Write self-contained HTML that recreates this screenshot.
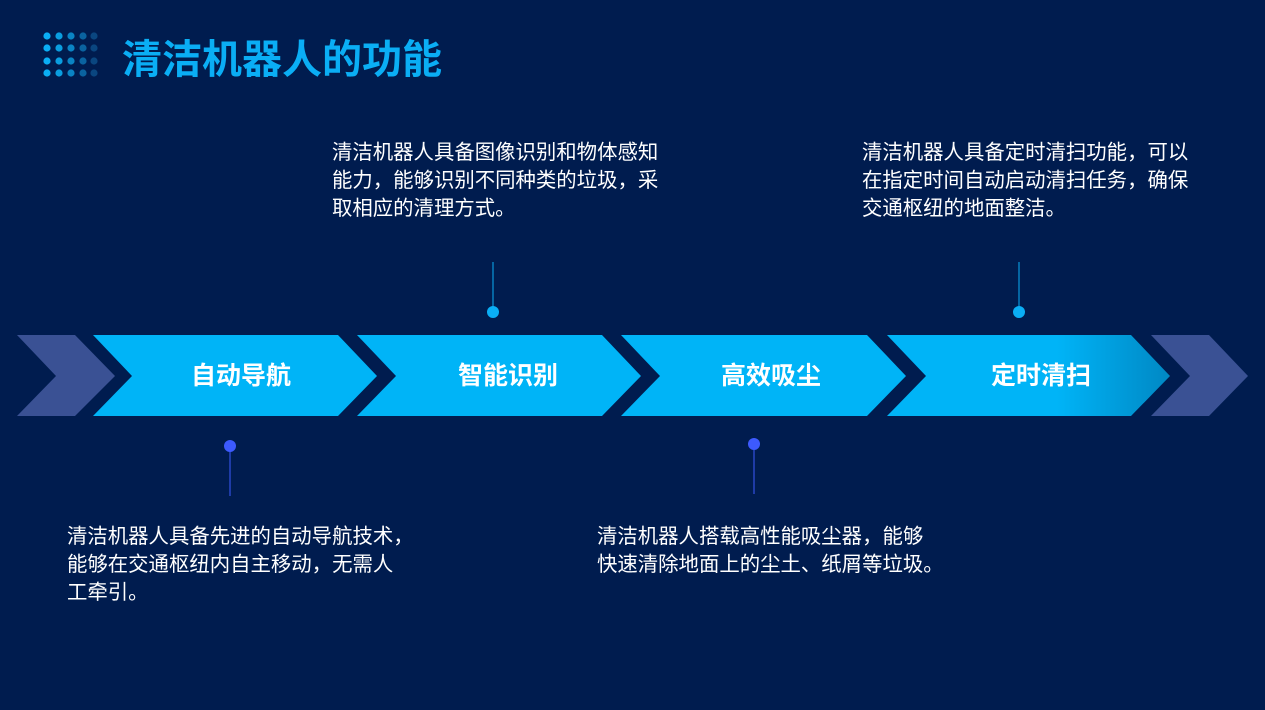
<!DOCTYPE html>
<html><head><meta charset="utf-8"><style>
body{margin:0;width:1265px;height:710px;background:#001c4f;position:relative;overflow:hidden;font-family:"Liberation Sans","Noto Sans CJK SC",sans-serif;}
.t{position:absolute;color:#fff;font-size:20.4px;line-height:28px;white-space:nowrap;}
.title{position:absolute;left:122px;top:35px;color:#0aaef5;font-size:40px;font-weight:bold;line-height:50px;}
.lab{position:absolute;color:#fff;font-size:25px;font-weight:bold;top:360px;line-height:32px;transform:translateX(-50%);}
</style></head><body>
<svg width="1265" height="710" style="position:absolute;left:0;top:0">
<defs><linearGradient id="g" x1="0" x2="1"><stop offset="0.6" stop-color="#00b4f7"/><stop offset="1" stop-color="#0088c4"/></linearGradient></defs>
<g>
<circle cx="47" cy="36" r="3.6" fill="#0aaef5"/><circle cx="59" cy="36" r="3.6" fill="#0a9ee0"/><circle cx="71" cy="36" r="3.6" fill="#0a84c4"/><circle cx="83" cy="36" r="3.6" fill="#0a63a0"/><circle cx="94" cy="36" r="3.6" fill="#0a4680"/>
<circle cx="47" cy="48" r="3.6" fill="#0aaef5"/><circle cx="59" cy="48" r="3.6" fill="#0a9ee0"/><circle cx="71" cy="48" r="3.6" fill="#0a84c4"/><circle cx="83" cy="48" r="3.6" fill="#0a63a0"/><circle cx="94" cy="48" r="3.6" fill="#0a4680"/>
<circle cx="47" cy="61" r="3.6" fill="#0aaef5"/><circle cx="59" cy="61" r="3.6" fill="#0a9ee0"/><circle cx="71" cy="61" r="3.6" fill="#0a84c4"/><circle cx="83" cy="61" r="3.6" fill="#0a63a0"/><circle cx="94" cy="61" r="3.6" fill="#0a4680"/>
<circle cx="47" cy="73" r="3.6" fill="#0aaef5"/><circle cx="59" cy="73" r="3.6" fill="#0a9ee0"/><circle cx="71" cy="73" r="3.6" fill="#0a84c4"/><circle cx="83" cy="73" r="3.6" fill="#0a63a0"/><circle cx="94" cy="73" r="3.6" fill="#0a4680"/>
</g>
<polygon points="17,335 75,335 115,376 75,416 17,416 56,376" fill="#3a5194"/>
<polygon points="93,335 338,335 377,376 338,416 93,416 132,376" fill="#00b4f7"/>
<polygon points="357,335 602,335 641,376 602,416 357,416 396,376" fill="#00b4f7"/>
<polygon points="621,335 867,335 906,376 867,416 621,416 660,376" fill="#00b4f7"/>
<polygon points="887,335 1131,335 1170,376 1131,416 887,416 926,376" fill="url(#g)"/>
<polygon points="1151,335 1209,335 1248,376 1209,416 1151,416 1190,376" fill="#3a5194"/>
<line x1="493" y1="262" x2="493" y2="312" stroke="#0aaef5" stroke-width="1"/><circle cx="493" cy="312" r="6" fill="#0aaef5"/>
<line x1="1019" y1="262" x2="1019" y2="312" stroke="#0aaef5" stroke-width="1"/><circle cx="1019" cy="312" r="6" fill="#0aaef5"/>
<line x1="230" y1="446" x2="230" y2="496" stroke="#3d5afe" stroke-width="1"/><circle cx="230" cy="446" r="6" fill="#3d5afe"/>
<line x1="754" y1="444" x2="754" y2="494" stroke="#3d5afe" stroke-width="1"/><circle cx="754" cy="444" r="6" fill="#3d5afe"/>
</svg>
<div class="title">清洁机器人的功能</div>
<div class="lab" style="left:241px">自动导航</div>
<div class="lab" style="left:508px">智能识别</div>
<div class="lab" style="left:771px">高效吸尘</div>
<div class="lab" style="left:1041px">定时清扫</div>
<div class="t" style="left:332px;top:139px">清洁机器人具备图像识别和物体感知<br>能力，能够识别不同种类的垃圾，采<br>取相应的清理方式。</div>
<div class="t" style="left:862px;top:139px">清洁机器人具备定时清扫功能，可以<br>在指定时间自动启动清扫任务，确保<br>交通枢纽的地面整洁。</div>
<div class="t" style="left:67px;top:523px">清洁机器人具备先进的自动导航技术，<br>能够在交通枢纽内自主移动，无需人<br>工牵引。</div>
<div class="t" style="left:597px;top:523px">清洁机器人搭载高性能吸尘器，能够<br>快速清除地面上的尘土、纸屑等垃圾。</div>
</body></html>
